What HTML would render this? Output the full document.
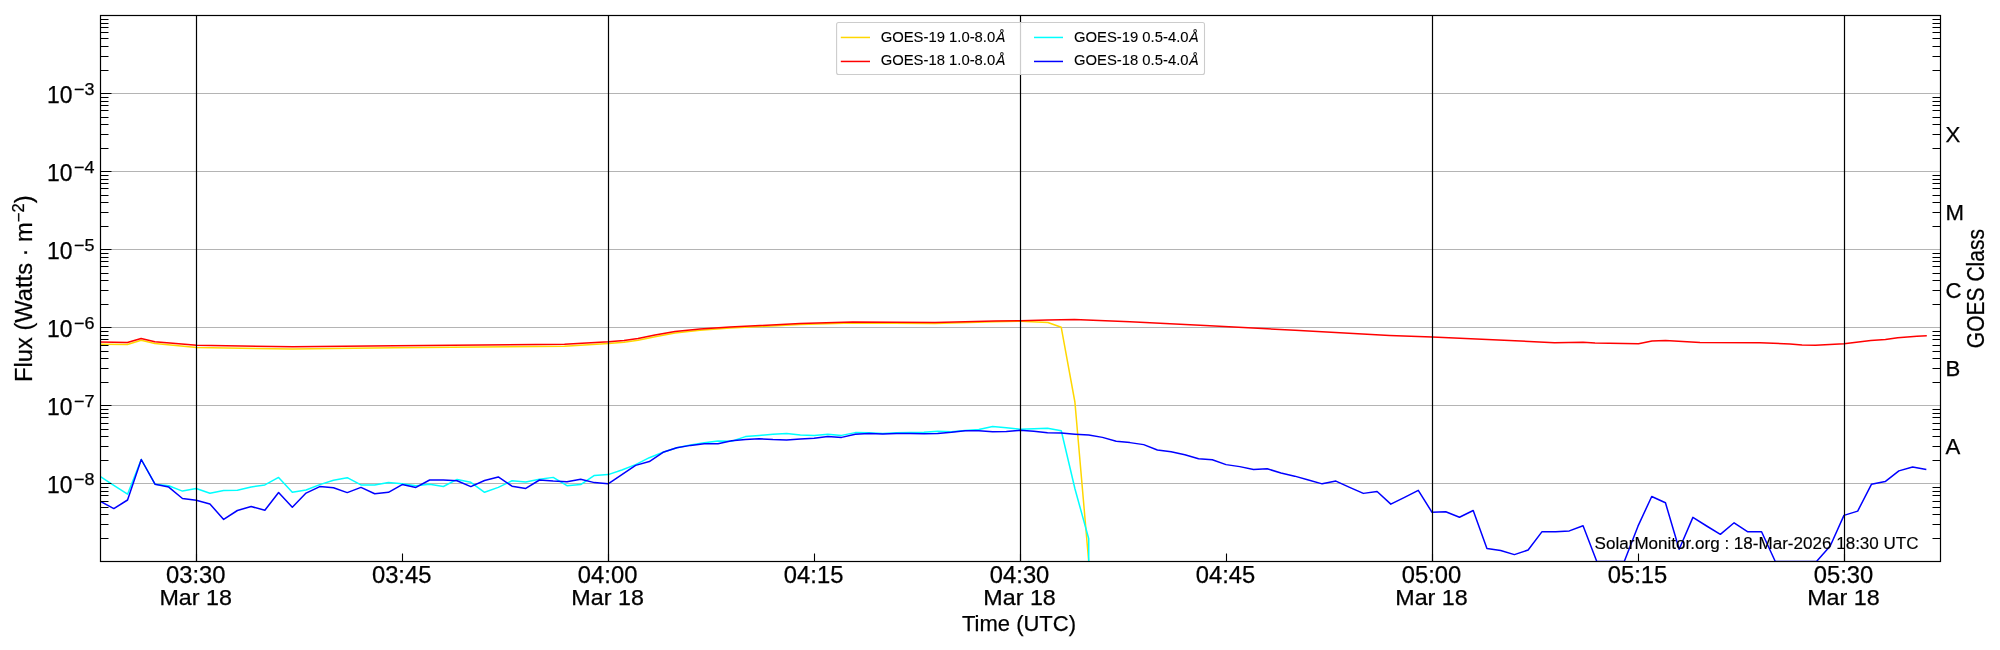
<!DOCTYPE html><html><head><meta charset="utf-8"><style>html,body{margin:0;padding:0;background:#fff;width:2000px;height:650px;overflow:hidden}svg{display:block;will-change:transform}text{font-family:"Liberation Sans",sans-serif;fill:#000;stroke:#000;stroke-width:0.25px}</style></head><body>
<svg width="2000" height="650" viewBox="0 0 2000 650">
<rect x="0" y="0" width="2000" height="650" fill="#fff"/>
<defs><clipPath id="pc"><rect x="100.5" y="15.5" width="1840.0" height="546.0"/></clipPath></defs>
<path d="M100.5 483.50H1940.5M100.5 405.50H1940.5M100.5 327.50H1940.5M100.5 249.50H1940.5M100.5 171.50H1940.5M100.5 93.50H1940.5" stroke="#b4b4b4" stroke-width="1" fill="none"/>
<g clip-path="url(#pc)" fill="none" stroke-width="1.5" stroke-linejoin="round" stroke-linecap="butt">
<path d="M100.50 344.20 L127.40 344.50 L141.10 340.20 L154.90 343.60 L196.60 347.60 L292.70 349.00 L395.00 347.80 L564.50 346.30 L608.50 343.50 L624.00 342.20 L638.00 340.20 L655.00 336.80 L675.00 333.00 L700.00 330.20 L730.00 328.00 L760.00 326.50 L800.00 324.50 L852.50 323.00 L935.00 323.50 L995.00 321.70 L1020.50 321.30 L1047.90 322.50 L1061.20 327.20 L1074.90 402.00 L1089.10 566.00 L1089.20 700.00" stroke="#ffd700"/>
<path d="M100.50 341.90 L127.40 342.50 L141.10 338.50 L154.90 341.80 L196.60 345.20 L292.70 346.80 L395.00 345.70 L564.50 344.20 L608.50 341.80 L624.00 340.50 L638.00 338.50 L655.00 335.00 L675.00 331.50 L700.00 329.00 L730.00 327.00 L760.00 325.50 L800.00 323.50 L852.50 322.00 L935.00 322.50 L965.00 321.70 L995.00 321.00 L1020.50 320.70 L1047.50 320.00 L1074.50 319.50 L1130.00 321.70 L1205.00 325.50 L1295.00 330.30 L1389.50 335.50 L1432.20 337.00 L1554.50 342.70 L1583.00 342.30 L1595.00 342.90 L1638.50 343.80 L1652.00 341.00 L1665.50 340.50 L1700.00 342.50 L1760.00 342.70 L1790.00 344.00 L1802.00 345.00 L1815.50 345.30 L1844.00 343.80 L1870.80 340.40 L1885.40 339.60 L1897.70 337.70 L1916.90 336.20 L1926.80 335.80" stroke="#ff0000"/>
<path d="M100.08 476.50 L113.81 485.40 L127.54 494.20 L141.27 459.50 L155.01 484.20 L168.74 485.80 L182.47 491.10 L196.20 488.50 L209.93 493.20 L223.66 490.50 L237.39 490.30 L251.13 486.90 L264.86 484.90 L278.59 477.40 L292.32 492.30 L306.05 490.00 L319.78 484.60 L333.51 480.30 L347.24 477.70 L360.98 484.90 L374.71 485.10 L388.44 482.50 L402.17 483.80 L415.90 485.80 L429.63 484.30 L443.36 486.50 L457.09 479.40 L470.83 482.30 L484.56 492.30 L498.29 487.40 L512.02 480.80 L525.75 482.00 L539.48 479.23 L553.21 477.38 L566.95 485.69 L580.68 484.62 L594.41 475.38 L608.14 474.62 L621.87 470.00 L635.60 464.62 L649.33 457.69 L663.06 452.31 L676.80 447.69 L690.53 445.08 L704.26 442.77 L717.99 440.92 L731.72 441.23 L745.45 436.62 L759.18 435.38 L772.91 434.31 L786.65 433.54 L800.38 435.08 L814.11 435.38 L827.84 434.15 L841.57 435.38 L855.30 432.62 L869.03 432.77 L882.76 433.54 L896.50 432.77 L910.23 432.62 L923.96 432.31 L937.69 431.23 L951.42 431.85 L965.15 430.46 L978.88 429.54 L992.62 426.46 L1006.35 427.69 L1020.08 429.23 L1033.81 428.77 L1047.54 428.15 L1061.27 430.77 L1075.00 489.00 L1088.73 538.70 L1088.93 900.00" stroke="#00ffff"/>
<path d="M100.08 501.20 L113.81 508.60 L127.54 500.00 L141.27 459.50 L155.01 484.20 L168.74 487.10 L182.47 498.50 L196.20 500.30 L209.93 504.00 L223.66 519.40 L237.39 510.50 L251.13 506.50 L264.86 510.30 L278.59 492.50 L292.32 507.20 L306.05 493.10 L319.78 486.60 L333.51 487.70 L347.24 492.60 L360.98 487.40 L374.71 493.80 L388.44 492.30 L402.17 484.60 L415.90 487.40 L429.63 480.00 L443.36 480.00 L457.09 480.80 L470.83 486.60 L484.56 480.50 L498.29 476.90 L512.02 486.20 L525.75 488.46 L539.48 480.00 L553.21 481.08 L566.95 481.85 L580.68 479.23 L594.41 482.62 L608.14 483.85 L621.87 474.62 L635.60 465.38 L649.33 461.54 L663.06 452.31 L676.80 447.69 L690.53 445.38 L704.26 443.85 L717.99 443.85 L731.72 440.77 L745.45 439.54 L759.18 438.77 L772.91 439.54 L786.65 440.00 L800.38 438.92 L814.11 438.15 L827.84 436.62 L841.57 437.38 L855.30 434.15 L869.03 433.54 L882.76 434.00 L896.50 433.38 L910.23 433.54 L923.96 433.85 L937.69 433.38 L951.42 432.31 L965.15 430.77 L978.88 430.77 L992.62 431.85 L1006.35 431.38 L1020.08 430.31 L1033.81 431.23 L1047.54 432.77 L1061.27 433.08 L1075.00 434.15 L1088.73 434.92 L1102.47 437.38 L1116.20 441.23 L1129.93 442.62 L1143.66 444.62 L1157.39 450.00 L1171.12 451.85 L1184.85 454.77 L1198.58 458.77 L1212.32 459.69 L1226.05 464.62 L1239.78 466.62 L1253.51 469.54 L1267.24 468.77 L1280.97 473.08 L1294.70 476.15 L1308.44 480.00 L1322.17 483.85 L1335.90 481.08 L1349.63 487.38 L1363.36 493.38 L1377.09 491.54 L1390.82 504.15 L1404.55 497.38 L1418.29 490.31 L1432.02 512.31 L1445.75 511.69 L1459.48 517.23 L1473.21 510.46 L1486.94 548.46 L1500.67 550.46 L1514.40 554.62 L1528.14 550.00 L1541.87 531.85 L1555.60 531.85 L1569.33 530.92 L1583.06 525.69 L1596.79 561.50 L1610.52 561.50 L1624.26 561.50 L1637.99 526.15 L1651.72 496.46 L1665.45 502.77 L1679.18 549.23 L1692.91 517.38 L1706.64 526.00 L1720.37 534.31 L1734.11 522.77 L1747.84 531.80 L1761.57 531.80 L1775.30 561.50 L1789.03 561.50 L1802.76 561.50 L1816.49 561.50 L1830.22 546.00 L1843.96 515.40 L1857.69 511.10 L1871.42 484.30 L1885.15 481.60 L1898.88 470.90 L1912.61 467.00 L1926.34 469.40" stroke="#0000ff"/>
</g>
<path d="M196.50 15.5V561.5M608.50 15.5V561.5M1020.50 15.5V561.5M1432.50 15.5V561.5M1844.50 15.5V561.5" stroke="#000" stroke-width="1.2" fill="none"/>
<path d="M100.5 561.50h11M100.5 483.50h11M100.5 405.50h11M100.5 327.50h11M100.5 249.50h11M100.5 171.50h11M100.5 93.50h11M100.5 15.50h11M100.5 538.50h8M1940.5 538.50h-8M100.5 524.50h8M1940.5 524.50h-8M100.5 514.50h8M1940.5 514.50h-8M100.5 507.50h8M1940.5 507.50h-8M100.5 501.50h8M1940.5 501.50h-8M100.5 495.50h8M1940.5 495.50h-8M100.5 491.50h8M1940.5 491.50h-8M100.5 487.50h8M1940.5 487.50h-8M100.5 460.50h8M1940.5 460.50h-8M100.5 446.50h8M1940.5 446.50h-8M100.5 436.50h8M1940.5 436.50h-8M100.5 429.50h8M1940.5 429.50h-8M100.5 423.50h8M1940.5 423.50h-8M100.5 417.50h8M1940.5 417.50h-8M100.5 413.50h8M1940.5 413.50h-8M100.5 409.50h8M1940.5 409.50h-8M100.5 382.50h8M1940.5 382.50h-8M100.5 368.50h8M1940.5 368.50h-8M100.5 358.50h8M1940.5 358.50h-8M100.5 351.50h8M1940.5 351.50h-8M100.5 345.50h8M1940.5 345.50h-8M100.5 339.50h8M1940.5 339.50h-8M100.5 335.50h8M1940.5 335.50h-8M100.5 331.50h8M1940.5 331.50h-8M100.5 304.50h8M1940.5 304.50h-8M100.5 290.50h8M1940.5 290.50h-8M100.5 280.50h8M1940.5 280.50h-8M100.5 273.50h8M1940.5 273.50h-8M100.5 266.50h8M1940.5 266.50h-8M100.5 261.50h8M1940.5 261.50h-8M100.5 257.50h8M1940.5 257.50h-8M100.5 253.50h8M1940.5 253.50h-8M100.5 226.50h8M1940.5 226.50h-8M100.5 212.50h8M1940.5 212.50h-8M100.5 202.50h8M1940.5 202.50h-8M100.5 195.50h8M1940.5 195.50h-8M100.5 188.50h8M1940.5 188.50h-8M100.5 183.50h8M1940.5 183.50h-8M100.5 179.50h8M1940.5 179.50h-8M100.5 175.50h8M1940.5 175.50h-8M100.5 148.50h8M1940.5 148.50h-8M100.5 134.50h8M1940.5 134.50h-8M100.5 124.50h8M1940.5 124.50h-8M100.5 117.50h8M1940.5 117.50h-8M100.5 110.50h8M1940.5 110.50h-8M100.5 105.50h8M1940.5 105.50h-8M100.5 101.50h8M1940.5 101.50h-8M100.5 97.50h8M1940.5 97.50h-8M100.5 70.50h8M1940.5 70.50h-8M100.5 56.50h8M1940.5 56.50h-8M100.5 46.50h8M1940.5 46.50h-8M100.5 38.50h8M1940.5 38.50h-8M100.5 32.50h8M1940.5 32.50h-8M100.5 27.50h8M1940.5 27.50h-8M100.5 23.50h8M1940.5 23.50h-8M100.5 19.50h8M1940.5 19.50h-8M196.50 561.5v-8M402.50 561.5v-8M608.50 561.5v-8M814.50 561.5v-8M1020.50 561.5v-8M1226.50 561.5v-8M1432.50 561.5v-8M1638.50 561.5v-8M1844.50 561.5v-8" stroke="#000" stroke-width="1.1" fill="none"/>
<rect x="100.5" y="15.5" width="1840.0" height="546.0" fill="none" stroke="#000" stroke-width="1.2"/>
<text x="47" y="492.86" font-size="23.3" textLength="25.5" lengthAdjust="spacingAndGlyphs">10</text>
<text x="74" y="484.86" font-size="16.8" textLength="20.5" lengthAdjust="spacingAndGlyphs">−8</text>
<text x="47" y="414.80" font-size="23.3" textLength="25.5" lengthAdjust="spacingAndGlyphs">10</text>
<text x="74" y="406.80" font-size="16.8" textLength="20.5" lengthAdjust="spacingAndGlyphs">−7</text>
<text x="47" y="336.74" font-size="23.3" textLength="25.5" lengthAdjust="spacingAndGlyphs">10</text>
<text x="74" y="328.74" font-size="16.8" textLength="20.5" lengthAdjust="spacingAndGlyphs">−6</text>
<text x="47" y="258.68" font-size="23.3" textLength="25.5" lengthAdjust="spacingAndGlyphs">10</text>
<text x="74" y="250.68" font-size="16.8" textLength="20.5" lengthAdjust="spacingAndGlyphs">−5</text>
<text x="47" y="180.62" font-size="23.3" textLength="25.5" lengthAdjust="spacingAndGlyphs">10</text>
<text x="74" y="172.62" font-size="16.8" textLength="20.5" lengthAdjust="spacingAndGlyphs">−4</text>
<text x="47" y="102.56" font-size="23.3" textLength="25.5" lengthAdjust="spacingAndGlyphs">10</text>
<text x="74" y="94.56" font-size="16.8" textLength="20.5" lengthAdjust="spacingAndGlyphs">−3</text>
<text x="195.70" y="583" font-size="23.2" text-anchor="middle" textLength="59.5" lengthAdjust="spacingAndGlyphs">03:30</text>
<text x="195.70" y="604.9" font-size="22.6" text-anchor="middle" textLength="72.5" lengthAdjust="spacingAndGlyphs">Mar 18</text>
<text x="401.67" y="583" font-size="23.2" text-anchor="middle" textLength="59.5" lengthAdjust="spacingAndGlyphs">03:45</text>
<text x="607.64" y="583" font-size="23.2" text-anchor="middle" textLength="59.5" lengthAdjust="spacingAndGlyphs">04:00</text>
<text x="607.64" y="604.9" font-size="22.6" text-anchor="middle" textLength="72.5" lengthAdjust="spacingAndGlyphs">Mar 18</text>
<text x="813.61" y="583" font-size="23.2" text-anchor="middle" textLength="59.5" lengthAdjust="spacingAndGlyphs">04:15</text>
<text x="1019.58" y="583" font-size="23.2" text-anchor="middle" textLength="59.5" lengthAdjust="spacingAndGlyphs">04:30</text>
<text x="1019.58" y="604.9" font-size="22.6" text-anchor="middle" textLength="72.5" lengthAdjust="spacingAndGlyphs">Mar 18</text>
<text x="1225.55" y="583" font-size="23.2" text-anchor="middle" textLength="59.5" lengthAdjust="spacingAndGlyphs">04:45</text>
<text x="1431.52" y="583" font-size="23.2" text-anchor="middle" textLength="59.5" lengthAdjust="spacingAndGlyphs">05:00</text>
<text x="1431.52" y="604.9" font-size="22.6" text-anchor="middle" textLength="72.5" lengthAdjust="spacingAndGlyphs">Mar 18</text>
<text x="1637.49" y="583" font-size="23.2" text-anchor="middle" textLength="59.5" lengthAdjust="spacingAndGlyphs">05:15</text>
<text x="1843.46" y="583" font-size="23.2" text-anchor="middle" textLength="59.5" lengthAdjust="spacingAndGlyphs">05:30</text>
<text x="1843.46" y="604.9" font-size="22.6" text-anchor="middle" textLength="72.5" lengthAdjust="spacingAndGlyphs">Mar 18</text>
<text x="1019" y="630.8" font-size="22.5" text-anchor="middle" textLength="114" lengthAdjust="spacingAndGlyphs">Time (UTC)</text>
<g transform="translate(31.8,288.7) rotate(-90)"><text x="0" y="0" font-size="23" text-anchor="middle" textLength="186.5" lengthAdjust="spacingAndGlyphs">Flux (Watts · m<tspan dy="-8" font-size="16">−2</tspan><tspan dy="8">)</tspan></text></g>
<text x="1945.5" y="141.60" font-size="22.2">X</text>
<text x="1945.5" y="219.60" font-size="22.2">M</text>
<text x="1945.5" y="297.60" font-size="22.2">C</text>
<text x="1945.5" y="375.60" font-size="22.2">B</text>
<text x="1945.5" y="453.60" font-size="22.2">A</text>
<g transform="translate(1983.8,288.6) rotate(-90)"><text x="0" y="0" font-size="23.5" text-anchor="middle" textLength="119.2" lengthAdjust="spacingAndGlyphs">GOES Class</text></g>
<text x="1594.6" y="548.9" font-size="16.8" style="stroke-width:0.15px" textLength="324" lengthAdjust="spacingAndGlyphs">SolarMonitor.org : 18-Mar-2026 18:30 UTC</text>
<rect x="836.6" y="22.5" width="367.9" height="52" rx="2" ry="2" fill="#fff" fill-opacity="0.8" stroke="#cccccc" stroke-width="1.1"/>
<path d="M840.8 37.45H870" stroke="#ffd700" stroke-width="1.5"/>
<path d="M840.8 61.45H870" stroke="#ff0000" stroke-width="1.5"/>
<path d="M1034 37.45H1063" stroke="#00ffff" stroke-width="1.5"/>
<path d="M1034 61.45H1063" stroke="#0000ff" stroke-width="1.5"/>
<text x="880.7" y="41.8" font-size="14" style="stroke-width:0.1px" textLength="114.5" lengthAdjust="spacingAndGlyphs">GOES-19 1.0-8.0</text>
<text x="996.0" y="41.8" font-size="14" style="stroke-width:0.1px" font-style="italic">Å</text>
<text x="880.7" y="64.7" font-size="14" style="stroke-width:0.1px" textLength="114.5" lengthAdjust="spacingAndGlyphs">GOES-18 1.0-8.0</text>
<text x="996.0" y="64.7" font-size="14" style="stroke-width:0.1px" font-style="italic">Å</text>
<text x="1074.0" y="41.8" font-size="14" style="stroke-width:0.1px" textLength="114.5" lengthAdjust="spacingAndGlyphs">GOES-19 0.5-4.0</text>
<text x="1189.3" y="41.8" font-size="14" style="stroke-width:0.1px" font-style="italic">Å</text>
<text x="1074.0" y="64.7" font-size="14" style="stroke-width:0.1px" textLength="114.5" lengthAdjust="spacingAndGlyphs">GOES-18 0.5-4.0</text>
<text x="1189.3" y="64.7" font-size="14" style="stroke-width:0.1px" font-style="italic">Å</text>
</svg></body></html>
